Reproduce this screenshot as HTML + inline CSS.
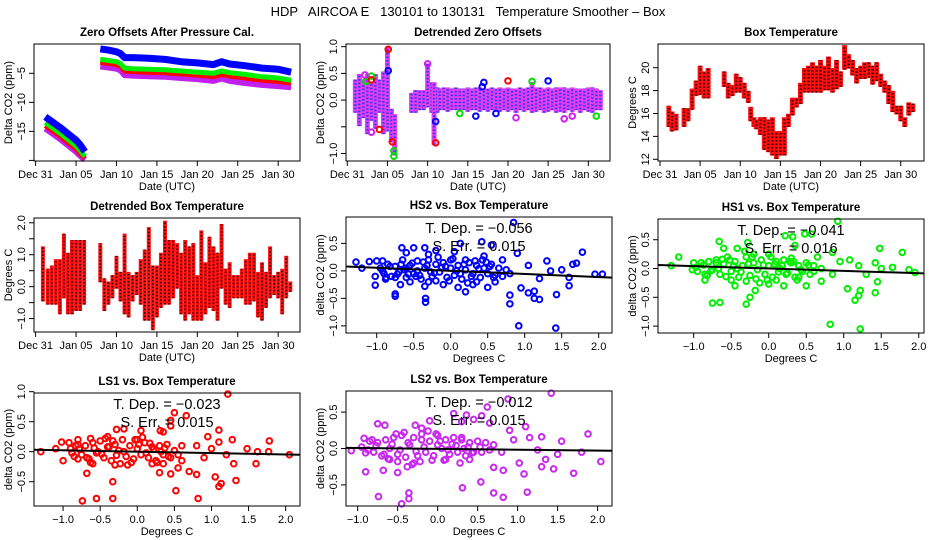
<!DOCTYPE html>
<html><head><meta charset="utf-8"><style>
html,body{margin:0;padding:0;background:#fff;}
svg{display:block;font-family:"Liberation Sans",sans-serif;}
</style></head><body>
<svg id="c" width="936" height="540" viewBox="0 0 936 540">
<text x="468" y="16" text-anchor="middle" font-size="13" style="white-space:pre" xml:space="preserve">HDP   AIRCOA E   130101 to 130131   Temperature Smoother – Box</text>
</svg>
<script>
// ---- Panel 1: zero offsets (day-of-month vs ppm)
const p1DaysA = [1.2,2,3,4,5,5.5,6.1];
const p1BlueA = [-12.5,-13.3,-14.3,-15.4,-16.5,-17.3,-18.5];
const p1GreenA = [-13.5,-14.3,-15.3,-16.4,-17.5,-18.3,-19.3];
const p1RedA = [-14.0,-14.8,-15.8,-16.9,-18.0,-18.8,-19.6];
const p1PurpleA = [-14.5,-15.3,-16.3,-17.4,-18.5,-19.2,-19.9];
const p1DaysB = [8,9,10,10.5,11,12,14,16,18,20,22,23,24,26,28,30,31.6];
const p1BlueB = [-0.8,-1.0,-1.3,-1.6,-2.3,-2.3,-2.4,-2.6,-3.0,-3.2,-3.5,-3.0,-3.4,-3.7,-4.1,-4.3,-4.8];
const p1GreenB = [-2.6,-2.8,-3.0,-3.3,-4.1,-4.2,-4.3,-4.4,-4.6,-4.8,-5.0,-4.6,-4.9,-5.2,-5.6,-5.8,-6.2];
const p1RedB = [-3.1,-3.3,-3.5,-3.8,-4.6,-4.7,-4.8,-4.9,-5.1,-5.3,-5.6,-5.2,-5.5,-5.8,-6.2,-6.4,-6.7];
const p1PurpleB = [-3.8,-4.0,-4.2,-4.5,-5.3,-5.4,-5.5,-5.6,-5.8,-6.0,-6.3,-5.9,-6.3,-6.7,-7.0,-7.2,-7.4];
// ---- Panel 2: detrended zero offsets (band ranges + outliers)
const p2Days = [1,1.5,2,2.5,3,3.5,4,4.5,5,5.5,5.9,8,8.5,9,9.5,10,10.5,10.8,11.2,11.5,12,12.5,13,13.5,14,14.5,15,15.5,16,16.5,17,17.5,18,18.5,19,19.5,20,20.5,21,21.5,22,22.5,23,23.5,24,24.5,25,25.5,26,26.5,27,27.5,28,28.5,29,29.5,30,30.5,31,31.5];
const p2Low = [-0.2,-0.45,-0.3,-0.6,-0.35,-0.5,-0.2,-0.6,-0.55,-0.75,-1.0,-0.2,-0.2,-0.15,-0.15,-0.1,-0.2,-0.8,-0.2,-0.15,-0.15,-0.18,-0.15,-0.15,-0.15,-0.15,-0.18,-0.15,-0.15,-0.18,-0.15,-0.18,-0.15,-0.18,-0.18,-0.15,-0.18,-0.15,-0.2,-0.15,-0.18,-0.15,-0.2,-0.18,-0.15,-0.2,-0.18,-0.15,-0.2,-0.18,-0.2,-0.15,-0.18,-0.15,-0.2,-0.15,-0.18,-0.2,-0.15,-0.15];
const p2High = [0.35,0.45,0.35,0.45,0.3,0.45,0.35,0.5,0.95,-0.2,-0.3,0.1,0.15,0.15,0.15,0.65,0.3,0.3,0.2,0.18,0.2,0.2,0.18,0.2,0.18,0.18,0.2,0.18,0.2,0.2,0.18,0.18,0.2,0.18,0.2,0.18,0.2,0.18,0.18,0.2,0.18,0.2,0.3,0.2,0.2,0.18,0.2,0.18,0.2,0.2,0.2,0.18,0.2,0.18,0.18,0.18,0.2,0.2,0.18,0.15];
const p2BlueX = [16,17,16.8,25,18.5,11,5.1];
const p2BlueY = [-0.3,0.33,0.25,0.36,-0.25,-0.4,0.55];
const p2GreenX = [5.8,31,14,3,23,2.3,5.8];
const p2GreenY = [-1.05,-0.3,-0.25,0.45,0.35,0.35,-0.95];
const p2RedX = [20,5.6,11,4,5.1,3];
const p2RedY = [0.36,-0.78,-0.8,-0.55,0.95,0.38];
const p2MagX = [3,27,28,21,2.2,10];
const p2MagY = [-0.6,-0.35,-0.3,-0.33,0.47,0.68];
// ---- Panel 3: box temperature ranges
const p3Days = [1.1,1.5,2,3,3.5,4,4.5,5,5.5,6, 8,8.5,9,9.5,10,10.5,11, 11.3,11.7,12,12.5,13,13.5,14,14.5,15,15.5,16,16.5,17,17.5,18,18.5,19,19.5,20,20.5,21,21.5,22,22.5,23,23.5,24,24.5,25,25.5,26,26.5,27,27.5,28,28.5,29,29.5,30,30.5,31,31.5];
const p3Low = [15,14.6,14.7,15,15.5,16.5,17.7,17.8,17.5,17.5, 18.5,17.5,17.7,18,18,17.5,17.1, 15.5,15,14.8,14.3,13,12.8,12.5,12.2,12.5,12.5,15,16,16.7,17,18,18,18,18,18,18.2,18.2,18,18.3,18.5,20,20.1,19.5,18.8,19.2,19.2,19.3,18.7,19,18.5,18,17,16.3,16.1,15.5,15,16,16.3];
const p3High = [16.5,16,15.8,16.3,16.3,18,18.7,20,19.5,19.8, 19.5,18.5,18.3,19.3,19,18.5,17.8, 16.4,15.5,15.3,15.5,15.5,15.3,15.5,14.3,14.3,15.5,15.8,17.2,17.2,18.5,19.8,20,20.3,20,20.5,20,20.8,19.8,20.5,19.5,21.8,21,20.5,19.8,20,20.3,20.3,20,20.3,19.3,18.7,18.3,17.8,16.5,16.5,15.5,16.8,16.7];
// ---- Panel 4: detrended box temperature ranges
const p4Days = [0.9,1.5,2,2.5,3,3.5,4,4.5,5,5.5,6, 8,8.5,9,9.5,10,10.5,11,11.5,12,12.5,13,13.5,14,14.5,15,15.5,16,16.5,17,17.5,18,18.5,19,19.5,20,20.5,21,21.5,22,22.5,23,23.5,24,24.5,25,25.5,26,26.5,27,27.5,28,28.5,29,29.5,30,30.5,31,31.5];
const p4Low = [-0.4,-0.5,-0.5,-0.5,-0.8,-0.3,-0.8,-0.8,-0.7,-0.7,-0.5, 0.2,-0.7,-0.5,-0.3,0,-0.4,-0.8,-0.9,-0.4,-0.2,-0.5,-1.0,-1.0,-1.3,-0.9,-0.6,-0.5,-0.5,-0.3,0,-0.8,-1.0,-0.8,-1.0,-1.0,-1.0,-0.8,-0.6,-0.7,-1.0,0,-0.5,-0.6,-0.3,-0.3,-0.3,-0.5,-0.5,-0.4,-0.9,-1.0,-0.6,-0.3,-0.2,-0.3,-0.8,-0.3,-0.1];
const p4High = [1.2,0.5,0.6,0.8,0.8,1.6,1.0,1.4,1.4,1.4,1.4, 1.3,0.2,0.1,0.3,0.9,0.4,1.6,0.4,0.3,0.4,0.8,1.1,1.8,0.6,0.6,1.0,2.0,1.4,1.4,1.3,1.0,1.4,1.2,1.3,0.3,1.7,0.7,1.5,1.2,1.0,1.9,0.5,0.7,0.3,0.3,0.5,0.8,1.0,1.0,0.4,0.7,0.4,1.2,0.3,0.4,0.5,0.9,0.1];
// ---- Scatter panels
const hs2X = [-1.28,-1.2,-1.1,-1.02,-1.02,-1.0,-0.92,-0.88,-0.75,-0.75,-0.68,-0.66,-0.6,-0.5,-0.35,-0.34,-0.34,-0.3,-0.2,0.05,0.13,0.2,0.42,0.55,0.45,0.85,0.9,0.8,0.8,0.95,0.92,1.05,1.13,1.13,1.2,1.3,1.42,1.43,1.6,1.6,1.65,1.7,1.78,1.95,2.05,1.5,1.35,1.2,1.05,0.7,0.6,0.5,0.3,0.1,-0.1,-0.35,-0.55,
 -0.95,-0.9,-0.85,-0.8,-0.75,-0.7,-0.65,-0.6,-0.55,-0.5,-0.45,-0.4,-0.35,-0.3,-0.25,-0.2,-0.15,-0.1,-0.05,0,0.05,0.1,0.15,0.2,0.25,0.3,0.35,0.4,0.45,0.5,0.55,0.6,0.65,0.7,0.75,0.8,-0.6,-0.3,0.0,-0.2,0.2,-0.45,-0.75,0.35,
 -0.92,-0.82,-0.72,-0.62,-0.52,-0.42,-0.32,-0.22,-0.12,-0.02,0.08,0.18,0.28,0.38,0.48,0.58,-0.87,-0.67,-0.47,-0.27,-0.07,0.13,0.33,0.53,-0.57,-0.37,-0.17,0.03,0.23,0.43];
const hs2Y = [0.16,0.05,0.17,-0.1,-0.26,0.18,0.18,-0.15,-0.42,-0.46,-0.25,0.42,0.33,0.42,0.42,-0.5,-0.57,0.3,0.37,0.35,0.5,-0.38,0.53,0.47,0.27,0.88,0.32,-0.44,-0.6,-0.31,-1.0,-0.4,-0.37,-0.5,-0.52,0.18,-1.04,-0.43,-0.27,-0.12,0.12,0.14,0.34,-0.06,-0.06,0.02,0.0,-0.14,0.1,0.2,-0.2,-0.3,-0.25,-0.3,-0.25,-0.28,-0.2,
 0.05,-0.05,0.12,-0.1,0.08,-0.02,0.2,-0.12,0.1,-0.05,0.18,-0.15,0.05,0.2,-0.1,0.12,-0.02,0.15,-0.12,0.05,-0.08,0.1,-0.15,0.02,0.15,-0.05,0.1,-0.12,0.05,-0.05,0.12,-0.08,0.05,-0.1,0.02,-0.05,0.05,-0.2,0.2,-0.18,0.2,0.0,-0.12,-0.2,
 0.0,0.08,-0.06,0.02,0.14,-0.08,0.1,-0.04,0.06,-0.18,0.0,0.12,-0.1,0.04,0.16,-0.12,-0.12,0.12,-0.1,-0.02,0.08,-0.05,0.18,0.08,-0.06,0.16,0.25,0.22,-0.22,0.2];
const hs1X = [-1.3,-1.2,-1.02,-0.85,-0.75,-0.65,-0.66,-0.6,-0.45,-0.42,-0.3,-0.28,-0.25,-0.18,0.22,0.32,0.35,0.48,0.57,0.92,0.85,0.82,0.85,1.05,1.15,1.2,1.22,1.22,1.42,1.42,1.45,1.48,1.5,1.65,1.78,1.87,1.95,1.08,1.2,1.3,0.95,0.65,0.7,0.5,0.2,0.0,0.6,
 -1.0,-0.95,-0.9,-0.85,-0.8,-0.75,-0.7,-0.65,-0.6,-0.55,-0.5,-0.45,-0.4,-0.35,-0.3,-0.25,-0.2,-0.15,-0.1,-0.05,0,0.05,0.1,0.15,0.2,0.25,0.3,0.35,0.4,0.45,0.5,0.55,0.6,0.7,-0.5,-0.2,0.1,-0.3,0.3,-0.7,0.0,0.4,
 -0.97,-0.87,-0.77,-0.67,-0.57,-0.47,-0.37,-0.27,-0.17,-0.07,0.03,0.13,0.23,0.33,0.43,0.53,-0.82,-0.62,-0.42,-0.22,-0.02,0.18,0.38,-0.52,-0.32,-0.12,0.08,0.28];
const hs1Y = [0.05,0.2,-0.02,-0.2,-0.6,-0.59,0.47,0.35,-0.3,0.35,-0.62,0.45,-0.5,-0.38,0.57,0.55,0.4,0.6,0.6,0.82,0.28,-0.97,-0.1,-0.35,-0.55,-0.47,-0.38,-1.05,-0.42,0.1,-0.23,0.35,0.0,0.02,0.28,-0.02,-0.07,0.15,0.05,-0.1,0.12,0.2,-0.22,-0.3,-0.3,-0.27,-0.05,
 0.1,-0.05,0.1,-0.1,0.12,-0.02,0.15,-0.1,0.08,0.2,-0.05,0.12,-0.15,0.05,0.2,-0.12,0.1,-0.02,0.15,-0.1,0.05,-0.15,0.12,0.0,0.15,-0.08,0.1,-0.15,0.05,-0.05,0.1,-0.1,0.05,0.0,-0.2,0.25,-0.2,-0.22,0.18,0.1,0.25,-0.15,
 0.02,0.06,-0.04,0.0,-0.14,0.04,-0.06,0.08,-0.18,0.06,0.2,-0.06,-0.1,0.12,-0.02,0.06,-0.12,0.16,0.0,0.2,-0.2,0.05,-0.2,0.15,0.3,-0.25,0.08,0.12];
const ls1X = [-1.3,-1.1,-1.02,-1.0,-0.92,-0.8,-0.74,-0.68,-0.63,-0.55,-0.33,-0.33,-0.28,-0.18,0.05,0.31,0.35,0.45,0.45,0.5,0.52,0.66,0.3,0.45,0.7,0.8,0.82,0.95,1.0,1.05,1.1,1.1,1.13,1.22,1.28,1.3,1.33,1.48,1.6,1.62,1.77,1.78,2.05,0.6,0.55,0.8,0.9,1.2,1.1,
 -0.9,-0.85,-0.8,-0.75,-0.7,-0.65,-0.6,-0.55,-0.5,-0.45,-0.4,-0.35,-0.3,-0.25,-0.2,-0.15,-0.1,-0.05,0,0.05,0.1,0.15,0.2,0.25,0.3,0.35,0.4,0.45,0.5,0.55,0.6,-0.6,-0.3,0.0,-0.4,0.2,-0.8,0.35,
 -0.88,-0.78,-0.68,-0.58,-0.48,-0.38,-0.28,-0.18,-0.08,0.02,0.12,0.22,0.32,0.42,-0.83,-0.63,-0.43,-0.23,-0.03,0.17,0.37,-0.53,-0.33,-0.13,0.07,0.27];
const ls1Y = [0.0,0.05,0.16,-0.15,0.15,0.2,-0.82,-0.36,0.22,-0.78,-0.5,-0.78,0.37,0.38,0.35,0.35,0.33,0.52,0.43,0.65,-0.65,0.6,-0.35,-0.37,-0.33,-0.38,-0.78,0.25,0.05,-0.42,0.36,-0.58,-0.53,0.96,0.2,-0.2,-0.48,0.05,-0.2,0.0,0.0,0.18,-0.05,-0.15,-0.27,0.1,-0.1,-0.05,0.16,
 0.05,-0.08,0.12,-0.05,0.1,-0.12,0.15,-0.02,0.18,-0.1,0.08,-0.15,0.12,0.02,0.2,-0.08,0.1,-0.12,0.05,-0.05,0.15,-0.1,0.08,-0.15,0.1,-0.05,0.12,-0.1,0.02,-0.05,0.1,-0.2,-0.22,0.2,0.25,-0.2,-0.12,-0.2,
 -0.02,0.04,-0.1,0.06,-0.04,0.08,-0.06,0.0,-0.18,0.12,-0.02,0.04,0.0,-0.08,0.1,-0.18,0.22,-0.2,0.2,0.14,0.06,0.0,0.18,-0.22,0.24,-0.18];
const ls2X = [-1.08,-0.92,-0.9,-0.75,-0.74,-0.68,-0.66,-0.5,-0.45,-0.36,-0.36,-0.38,-0.28,-0.2,-0.1,0.2,0.3,0.36,0.45,0.55,0.62,0.65,0.31,0.54,0.7,0.7,0.82,0.82,0.88,0.9,1.02,1.1,1.08,1.12,1.15,1.3,1.3,1.42,1.45,1.55,1.7,1.88,2.04,1.8,1.5,1.35,0.8,0.95,1.25,
 -0.95,-0.9,-0.85,-0.8,-0.75,-0.7,-0.65,-0.6,-0.55,-0.5,-0.45,-0.4,-0.35,-0.3,-0.25,-0.2,-0.15,-0.1,-0.05,0,0.05,0.1,0.15,0.2,0.25,0.3,0.35,0.4,0.45,0.5,0.55,0.6,0.65,0.7,-0.5,-0.2,0.1,-0.3,0.3,-0.6,0.0,0.4,
 -0.87,-0.77,-0.67,-0.57,-0.47,-0.37,-0.27,-0.17,-0.07,0.03,0.13,0.23,0.33,0.43,0.53,-0.82,-0.62,-0.42,-0.22,-0.02,0.18,0.38,-0.52,-0.32,-0.12,0.08,0.28];
const ls2Y = [-0.03,0.14,-0.32,0.34,-0.66,-0.3,0.32,-0.33,-0.76,-0.61,-0.69,-0.25,0.32,0.28,0.38,0.48,0.37,0.46,0.4,0.45,0.57,0.35,-0.54,-0.46,-0.61,-0.26,-0.67,-0.3,0.68,0.25,-0.2,0.3,-0.35,-0.6,0.15,0.16,-0.25,0.76,-0.28,0.1,-0.34,0.2,-0.18,-0.05,-0.08,-0.15,-0.05,0.12,-0.02,
 0.02,-0.06,0.1,-0.05,0.08,-0.1,0.12,0.0,0.15,-0.08,0.18,-0.12,0.05,0.15,-0.1,0.12,-0.05,0.1,-0.1,0.05,0.0,0.12,-0.08,0.15,-0.05,0.12,-0.1,0.08,-0.05,0.1,-0.05,0.08,-0.02,0.05,-0.18,0.2,-0.15,-0.2,0.15,-0.15,0.18,-0.15,
 -0.02,0.04,-0.08,0.06,-0.02,0.08,-0.04,0.02,-0.16,0.1,-0.02,0.04,0.0,-0.06,0.02,0.12,-0.14,0.22,-0.18,0.2,0.06,0.02,0.2,-0.22,0.24,-0.16,-0.2];
const slopes = [-0.056,-0.041,-0.023,-0.012];
const intercepts = [0.0,0.0,0.0,-0.005];
const tDepLabels = ["T. Dep. =  −0.056","T. Dep. =  −0.041","T. Dep. =  −0.023","T. Dep. =  −0.012"];
const sErrLabels = ["S. Err. =  0.015","S. Err. =  0.016","S. Err. =  0.015","S. Err. =  0.015"];
const dateTicks = [0,5,10,15,20,25,30];
const dateLabels = ["Dec 31","Jan 05","Jan 10","Jan 15","Jan 20","Jan 25","Jan 30"];
const tempTickVals = [-1.0,-0.5,0,0.5,1.0,1.5,2.0];

const NS="http://www.w3.org/2000/svg";
const svg=document.getElementById('c');
function el(tag,attrs,parent){const e=document.createElementNS(NS,tag);for(const k in attrs)e.setAttribute(k,attrs[k]);(parent||svg).appendChild(e);return e;}
function fmt(v,d){const s=Math.abs(v).toFixed(d);return (v<0?"−":"")+s;}

function panel(name,box,dom,title,xTitle,yTitle,xt,xl,yt,yl){
  const g=el('g',{});
  
  
  const [x0,y0,x1,y1]=box,[a,b,c,d]=dom;
  const sx=v=>x0+(v-a)/(b-a)*(x1-x0);
  const sy=v=>y1-(v-c)/(d-c)*(y1-y0);
  const t=el('text',{x:(x0+x1)/2,y:y0-8,'text-anchor':'middle','font-size':11.5,'font-weight':'bold'},g);t.textContent=title;
  
  const plot=el('g',{},g);
  
  const ax=el('g',{stroke:'#000','stroke-width':1},g);
  
  el('line',{x1:sx(xt[0]),x2:sx(xt[xt.length-1]),y1:y1,y2:y1},ax);
  xt.forEach((v,i)=>{el('line',{x1:sx(v),x2:sx(v),y1:y1,y2:y1+5},ax);
    if(xl[i]){const tl=el('text',{x:sx(v),y:y1+17,'text-anchor':'middle','font-size':11,stroke:'none'},ax);tl.textContent=xl[i];
    }});
  const ay=el('g',{stroke:'#000','stroke-width':1},g);
  
  el('line',{x1:x0,x2:x0,y1:sy(yt[0]),y2:sy(yt[yt.length-1])},ay);
  yt.forEach((v,i)=>{el('line',{x1:x0-5,x2:x0,y1:sy(v),y2:sy(v)},ay);
    if(yl[i]){const tl=el('text',{x:x0-9,y:sy(v),'text-anchor':'middle','font-size':11,stroke:'none',transform:`rotate(-90 ${x0-9} ${sy(v)})`},ay);tl.textContent=yl[i];
    }});
  const frame=el('rect',{x:x0,y:y0,width:x1-x0,height:y1-y0,fill:'none',stroke:'#000','stroke-width':1},g);
  
  const xtt=el('text',{x:(x0+x1)/2,y:y1+29,'text-anchor':'middle','font-size':11},g);xtt.textContent=xTitle;
  
  const yx=x0-22,yy=(y0+y1)/2;
  const ytt=el('text',{x:yx,y:yy,'text-anchor':'middle','font-size':11,transform:`rotate(-90 ${yx} ${yy})`},g);ytt.textContent=yTitle;
  
  return {sx,sy,plot,g,box};
}
function polyline(P,xs,ys,color,w,name){
  const pts=xs.map((v,i)=>P.sx(v).toFixed(1)+','+P.sy(ys[i]).toFixed(1)).join(' ');
  const l=el('polyline',{points:pts,fill:'none',stroke:color,'stroke-width':w,'stroke-linejoin':'round'},P.plot);
  
}
function bands(P,xs,lo,hi,color,w,name,color2){
  const grp=el('g',{'stroke-width':w},P.plot);
  
  xs.forEach((v,i)=>{
    const b=el('line',{x1:P.sx(v),x2:P.sx(v),y1:P.sy(lo[i])+2,y2:P.sy(hi[i])-2,stroke:color},grp);
    
    if(color2){const b2=el('line',{x1:P.sx(v),x2:P.sx(v),y1:P.sy(lo[i])+2,y2:P.sy(hi[i])-2,stroke:color2,'stroke-width':w*0.45,'stroke-dasharray':'1.5 2'},grp);
    }});
}
function pts(P,xs,ys,color,name){
  const grp=el('g',{fill:'none',stroke:color,'stroke-width':2},P.plot);
  
  xs.forEach((v,i)=>{const c=el('circle',{cx:P.sx(v),cy:P.sy(ys[i]),r:2.8},grp);
    });
}
const dateTitle="Date (UTC)";
// Panel 1
const P1=panel('zero-offsets-panel',[34,44,300,161],[-0.2,32.7,-20.1,0.05],'Zero Offsets After Pressure Cal.',dateTitle,'Delta CO2 (ppm)',dateTicks,dateLabels,[-20,-15,-10,-5],["","−15","−10","−5"]);
[[p1PurpleA,p1PurpleB,'#c020f0',6,'series-ls2'],[p1RedA,p1RedB,'#ff0000',5,'series-ls1'],[p1GreenA,p1GreenB,'#00ee00',5,'series-hs1'],[p1BlueA,p1BlueB,'#0000ff',7,'series-hs2']].forEach(s=>{
  polyline(P1,p1DaysA,s[0],s[2],s[3],s[4]+'-part1');polyline(P1,p1DaysB,s[1],s[2],s[3],s[4]+'-part2');});
// Panel 2
const P2=panel('detrended-zero-offsets-panel',[346,44,610,161],[-0.16,32.7,-1.14,1.05],'Detrended Zero Offsets',dateTitle,'Delta CO2 (ppm)',dateTicks,dateLabels,[-1,-0.5,0,0.5,1],["−1.0","","0.0","0.5","1.0"]);
bands(P2,p2Days,p2Low,p2High,'#e040f0',5,'detrended-band','#3030ff');
pts(P2,p2BlueX,p2BlueY,'#0000ff','hs2-outliers');pts(P2,p2GreenX,p2GreenY,'#00dd00','hs1-outliers');
pts(P2,p2RedX,p2RedY,'#ff0000','ls1-outliers');pts(P2,p2MagX,p2MagY,'#d020f0','ls2-outliers');
// Panel 3
const P3=panel('box-temperature-panel',[658,44,924,161],[-0.25,32.9,11.85,22.07],'Box Temperature',dateTitle,'Degrees C',dateTicks,dateLabels,[12,14,16,18,20],["12","14","16","18","20"]);
bands(P3,p3Days,p3Low,p3High,'#ff1010',5,'temperature-band','#400000');
// Panel 4
const P4=panel('detrended-temperature-panel',[34,218,300,332],[-0.2,32.7,-1.42,2.15],'Detrended Box Temperature',dateTitle,'Degrees C',dateTicks,dateLabels,tempTickVals,["−1.0","","0.0","","1.0","","2.0"]);
bands(P4,p4Days,p4Low,p4High,'#ff1010',4,'detrended-temperature-band','#400000');
// Scatter panels
const sxTicks=[-1,-0.5,0,0.5,1,1.5,2],sxLab=sxTicks.map(v=>fmt(v,1));
const scat=[
 ['hs2-scatter-panel',[346,217,612,333],[-1.415,2.18,-1.13,0.98],'HS2 vs. Box Temperature',hs2X,hs2Y,'#0000ff',[-1,-0.5,0,0.5]],
 ['hs1-scatter-panel',[658,219,924,333],[-1.476,2.07,-1.12,0.86],'HS1 vs. Box Temperature',hs1X,hs1Y,'#00ee00',[-1,-0.5,0,0.5]],
 ['ls1-scatter-panel',[34,393,300,506],[-1.392,2.193,-0.905,0.978],'LS1 vs. Box Temperature',ls1X,ls1Y,'#ff0000',[-0.5,0,0.5,1]],
 ['ls2-scatter-panel',[346,391,612,506],[-1.146,2.18,-0.79,0.79],'LS2 vs. Box Temperature',ls2X,ls2Y,'#c828f0',[-0.5,0,0.5]]];
scat.forEach((s,k)=>{
  const P=panel(s[0],s[1],s[2],s[3],'Degrees C','delta CO2 (ppm)',sxTicks,sxLab,s[7],s[7].map(v=>fmt(v,1)));
  pts(P,s[4],s[5],s[6],'scatter-points');
  const [a,b]=[s[2][0],s[2][1]];
  const rl=el('line',{x1:P.sx(a),x2:P.sx(b),y1:P.sy(intercepts[k]+slopes[k]*a),y2:P.sy(intercepts[k]+slopes[k]*b),stroke:'#000','stroke-width':2},P.plot);
  
  const cx=(s[1][0]+s[1][2])/2;
  const t1=el('text',{x:cx,y:s[1][1]+16,'text-anchor':'middle','font-size':14.5},P.g);t1.textContent=tDepLabels[k];
  
  const t2=el('text',{x:cx,y:s[1][1]+34,'text-anchor':'middle','font-size':14.5},P.g);t2.textContent=sErrLabels[k];
  
});
</script>
</body></html>
